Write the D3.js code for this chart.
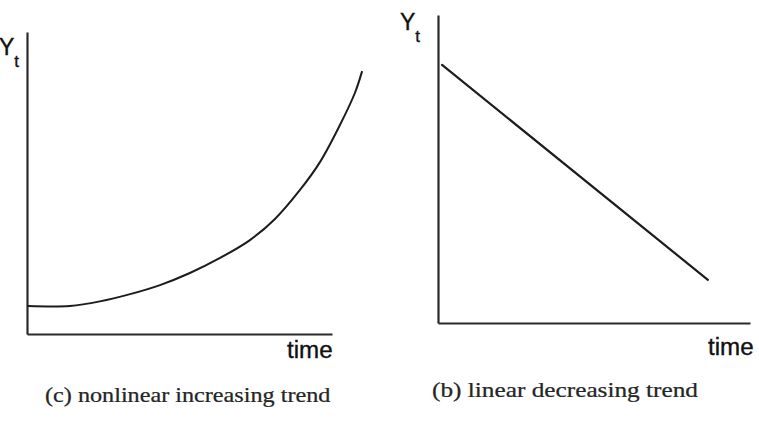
<!DOCTYPE html>
<html>
<head>
<meta charset="utf-8">
<script src="https://cdn.jsdelivr.net/npm/d3@7"></script>
<style>
	body { margin: 0; background: #fff; }
	svg { display: block; }
	.axis path { stroke: #2a2a2a; stroke-width: 2.2px; }
	.label { font-family: "Liberation Sans", Arial, sans-serif; fill: #111; stroke: #111; stroke-width: 0.35px; }
	.caption { font-family: "Liberation Serif", "Times New Roman", serif; fill: #252525; stroke: #252525; stroke-width: 0.25px; }
</style>
</head>
<body>
<svg id="chart" width="759" height="423"></svg>
<script>
//left panel : nonlinear increasing trend (time, Yt)
var curveTime = [0.03, 1.41, 2.39, 3.38, 4.36, 5.34, 6.33, 7.31, 8.13, 8.95, 9.61, 10.26, 10.75, 10.98];
var curveY    = [0.93, 0.93, 1.08, 1.32, 1.62, 2.02, 2.52, 3.11, 3.81, 4.77, 5.70, 6.92, 7.98, 8.68];

//right panel : linear decreasing trend
var lineTime = [0.13, 8.65];
var lineY    = [8.38, 1.40];

var captions = ["(c) nonlinear increasing trend", "(b) linear decreasing trend"];
var axisTitle = "time";

var svg = d3.select("#chart");

//draw one panel : axes without ticks, series, labels
function plotPanel(opt, xs, ys)
{
	var x = d3.scaleLinear().domain([0, 10]).range(opt.xRange);
	var y = d3.scaleLinear().domain([0, 10]).range(opt.yRange);

	svg.append("g")
		.attr("class", "axis")
		.attr("transform", "translate(0," + opt.yRange[0] + ")")
		.call(d3.axisBottom(x).ticks(0).tickSize(0).tickSizeOuter(0));

	svg.append("g")
		.attr("class", "axis")
		.attr("transform", "translate(" + opt.xRange[0] + ",0)")
		.call(d3.axisLeft(y).ticks(0).tickSize(0).tickSizeOuter(0));

	var data = xs.map(function(d, i) { return [d, ys[i]]; });
	var line = d3.line()
		.x(function(d) { return x(d[0]); })
		.y(function(d) { return y(d[1]); })
		.curve(opt.curve);

	svg.append("path")
		.datum(data)
		.attr("d", line)
		.attr("fill", "none")
		.attr("stroke", "#1c1c1c")
		.attr("stroke-width", opt.width)
		.attr("stroke-linecap", "round");

	//Y_t label
	var yl = svg.append("text")
		.attr("class", "label")
		.attr("x", opt.yLabel[0])
		.attr("y", opt.yLabel[1])
		.attr("font-size", 23);
	yl.append("tspan").text("Y");
	yl.append("tspan").attr("dy", 12).attr("font-size", 17).text("t");

	svg.append("text")
		.attr("class", "label")
		.attr("transform", "translate(" + opt.timeLabel[0] + "," + opt.timeLabel[1] + ") scale(1.05,1)")
		.attr("font-size", 23)
		.text(axisTitle);

	svg.append("text")
		.attr("class", "caption")
		.attr("transform", "translate(" + opt.caption[0] + "," + opt.caption[1] + ") scale(" + opt.caption[2] + ",1)")
		.attr("font-size", 22)
		.text(opt.title);
}

plotPanel({
	xRange: [27, 332], yRange: [334, 32],
	curve: d3.curveCatmullRom, width: 2,
	yLabel: [-1, 55], timeLabel: [287, 358],
	caption: [45, 402, 1.1], title: captions[0]
}, curveTime, curveY);

plotPanel({
	xRange: [438, 750], yRange: [323, 15],
	curve: d3.curveLinear, width: 2.2,
	yLabel: [400, 30], timeLabel: [708, 355],
	caption: [432, 397, 1.15], title: captions[1]
}, lineTime, lineY);
</script>
</body>
</html>
